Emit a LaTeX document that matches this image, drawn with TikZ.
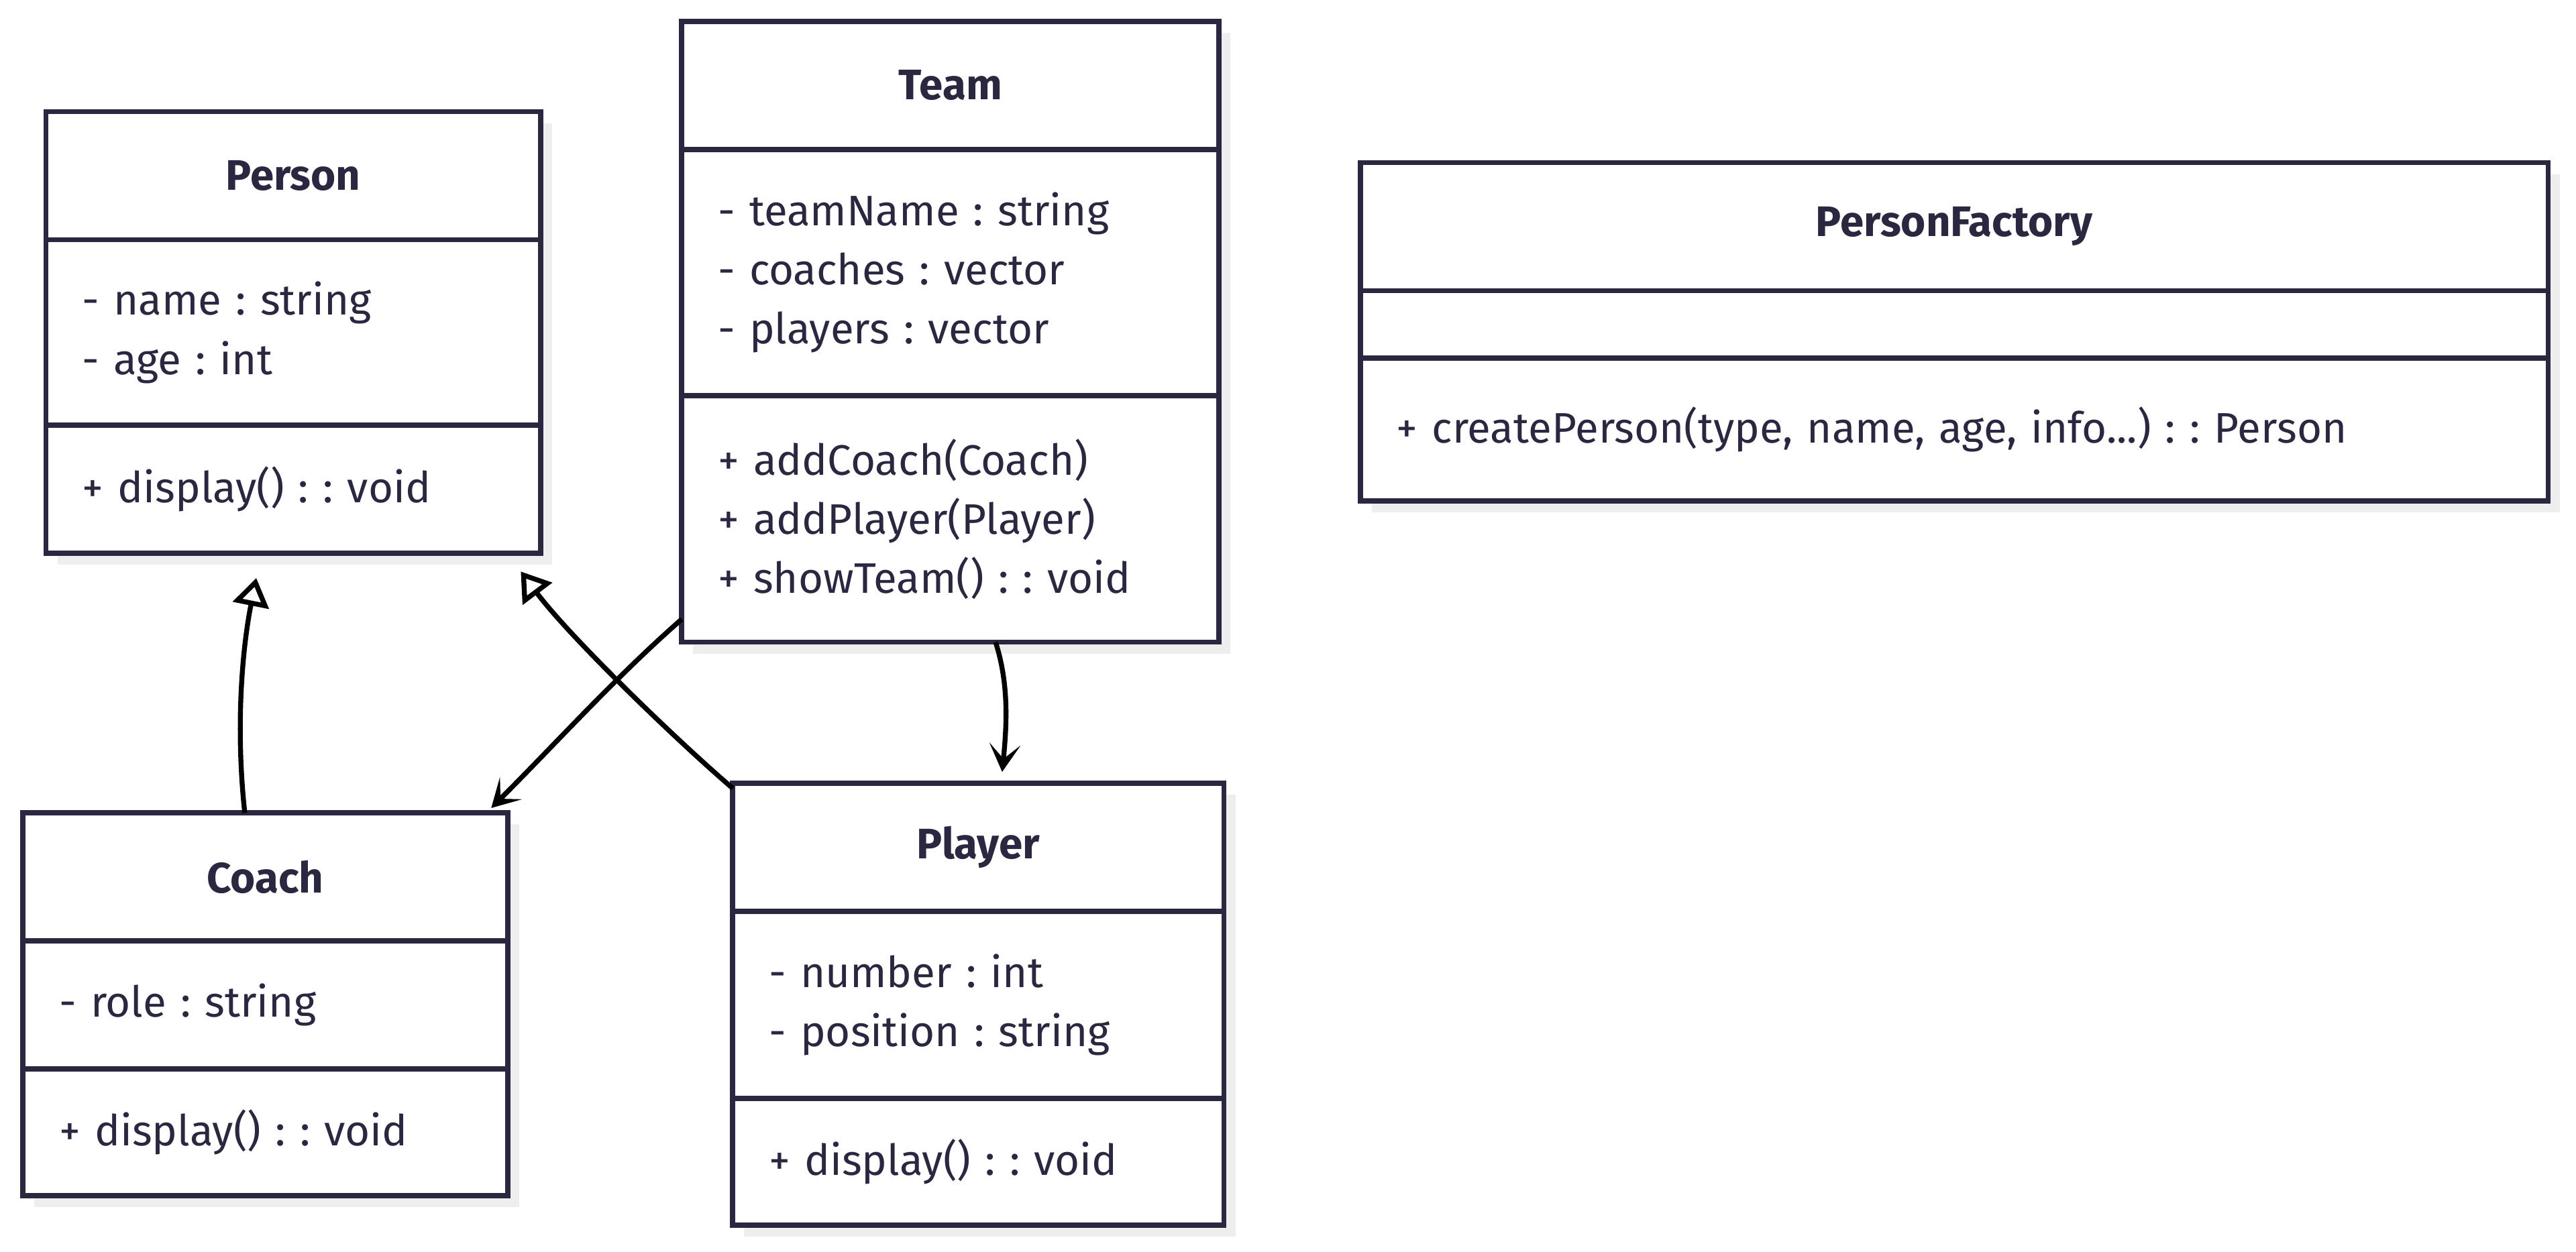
\documentclass[tikz,border=0pt]{standalone}
\usepackage{fontspec}
\setmainfont{Fira Sans}
\frenchspacing
\usetikzlibrary{arrows.meta,shadows}
\definecolor{umlnavy}{HTML}{2A2840}
\definecolor{shadowgrey}{HTML}{EEEEEE}
\tikzset{
  box/.style={draw=umlnavy, line width=3.2pt, fill=white, text=umlnavy, anchor=north west, outer sep=0pt,
    inner xsep=22pt, inner ysep=0pt, font=\fontsize{26}{36}\selectfont,
    drop shadow={shadow xshift=7pt, shadow yshift=-7pt, fill=shadowgrey, opacity=1}},
  head/.style={box, align=center, font=\bfseries\fontsize{26}{36}\selectfont},
  body/.style={box, align=left},
  inherit/.style={line width=3pt, -{Triangle[open, length=17pt, width=22pt]}},
  assoc/.style={line width=3pt, -{Stealth[length=17pt, width=19pt, inset=9pt]}}
}
\begin{document}
\begin{tikzpicture}[x=1pt,y=-1pt]
\useasboundingbox (0,0) rectangle (1568,762.3);
% Person
\node[head, minimum width=301pt, minimum height=78pt] (person) at (28,68) {Person};
\node[body, text width=257pt, minimum height=113pt] (person-a) at (person.south west) {- name : string\\- age : int};
\node[body, text width=257pt, minimum height=78pt] (person-m) at (person-a.south west) {+ display() : : void};
% Team
\node[head, minimum width=327pt, minimum height=78pt] (team) at (415,13) {Team};
\node[body, text width=283pt, minimum height=150pt] (team-a) at (team.south west) {- teamName : string\\- coaches : vector\\- players : vector};
\node[body, text width=283pt, minimum height=150pt] (team-m) at (team-a.south west) {+ addCoach(Coach)\\+ addPlayer(Player)\\+ showTeam() : : void};
% PersonFactory
\node[head, minimum width=723pt, minimum height=78pt] (factory) at (828,99) {PersonFactory};
\node[body, text width=679pt, minimum height=41pt] (factory-a) at (factory.south west) {};
\node[body, text width=679pt, minimum height=87pt] (factory-m) at (factory-a.south west) {+ createPerson(type, name, age, info...) : : Person};
% Coach
\node[head, minimum width=295pt, minimum height=78pt] (coach) at (14,495) {Coach};
\node[body, text width=251pt, minimum height=78pt] (coach-a) at (coach.south west) {- role : string};
\node[body, text width=251pt, minimum height=77pt] (coach-m) at (coach-a.south west) {+ display() : : void};
% Player
\node[head, minimum width=299pt, minimum height=78pt] (player) at (446,477) {Player};
\node[body, text width=255pt, minimum height=114pt] (player-a) at (player.south west) {- number : int\\- position : string};
\node[body, text width=255pt, minimum height=77pt] (player-m) at (player-a.south west) {+ display() : : void};
% relations
\draw[inherit] ([xshift=-12.5pt]coach.north) .. controls +(-6,-55) and +(-8,40) .. ([xshift=-22.5pt,yshift=-15pt]person-m.south);
\draw[inherit] ([yshift=-3pt]player.north west) .. controls +(-35,-30) and +(30,40) .. ([xshift=-12pt,yshift=-11pt]person-m.south east);
\draw[assoc] ([yshift=14pt]team-m.south west) .. controls +(-40,35) and +(40,-40) .. ([xshift=-10pt,yshift=3pt]coach.north east);
\draw[assoc] ([xshift=27.5pt]team-m.south) .. controls +(8,25) and +(3,-30) .. ([xshift=14.5pt,yshift=7pt]player.north);
\end{tikzpicture}
\end{document}
